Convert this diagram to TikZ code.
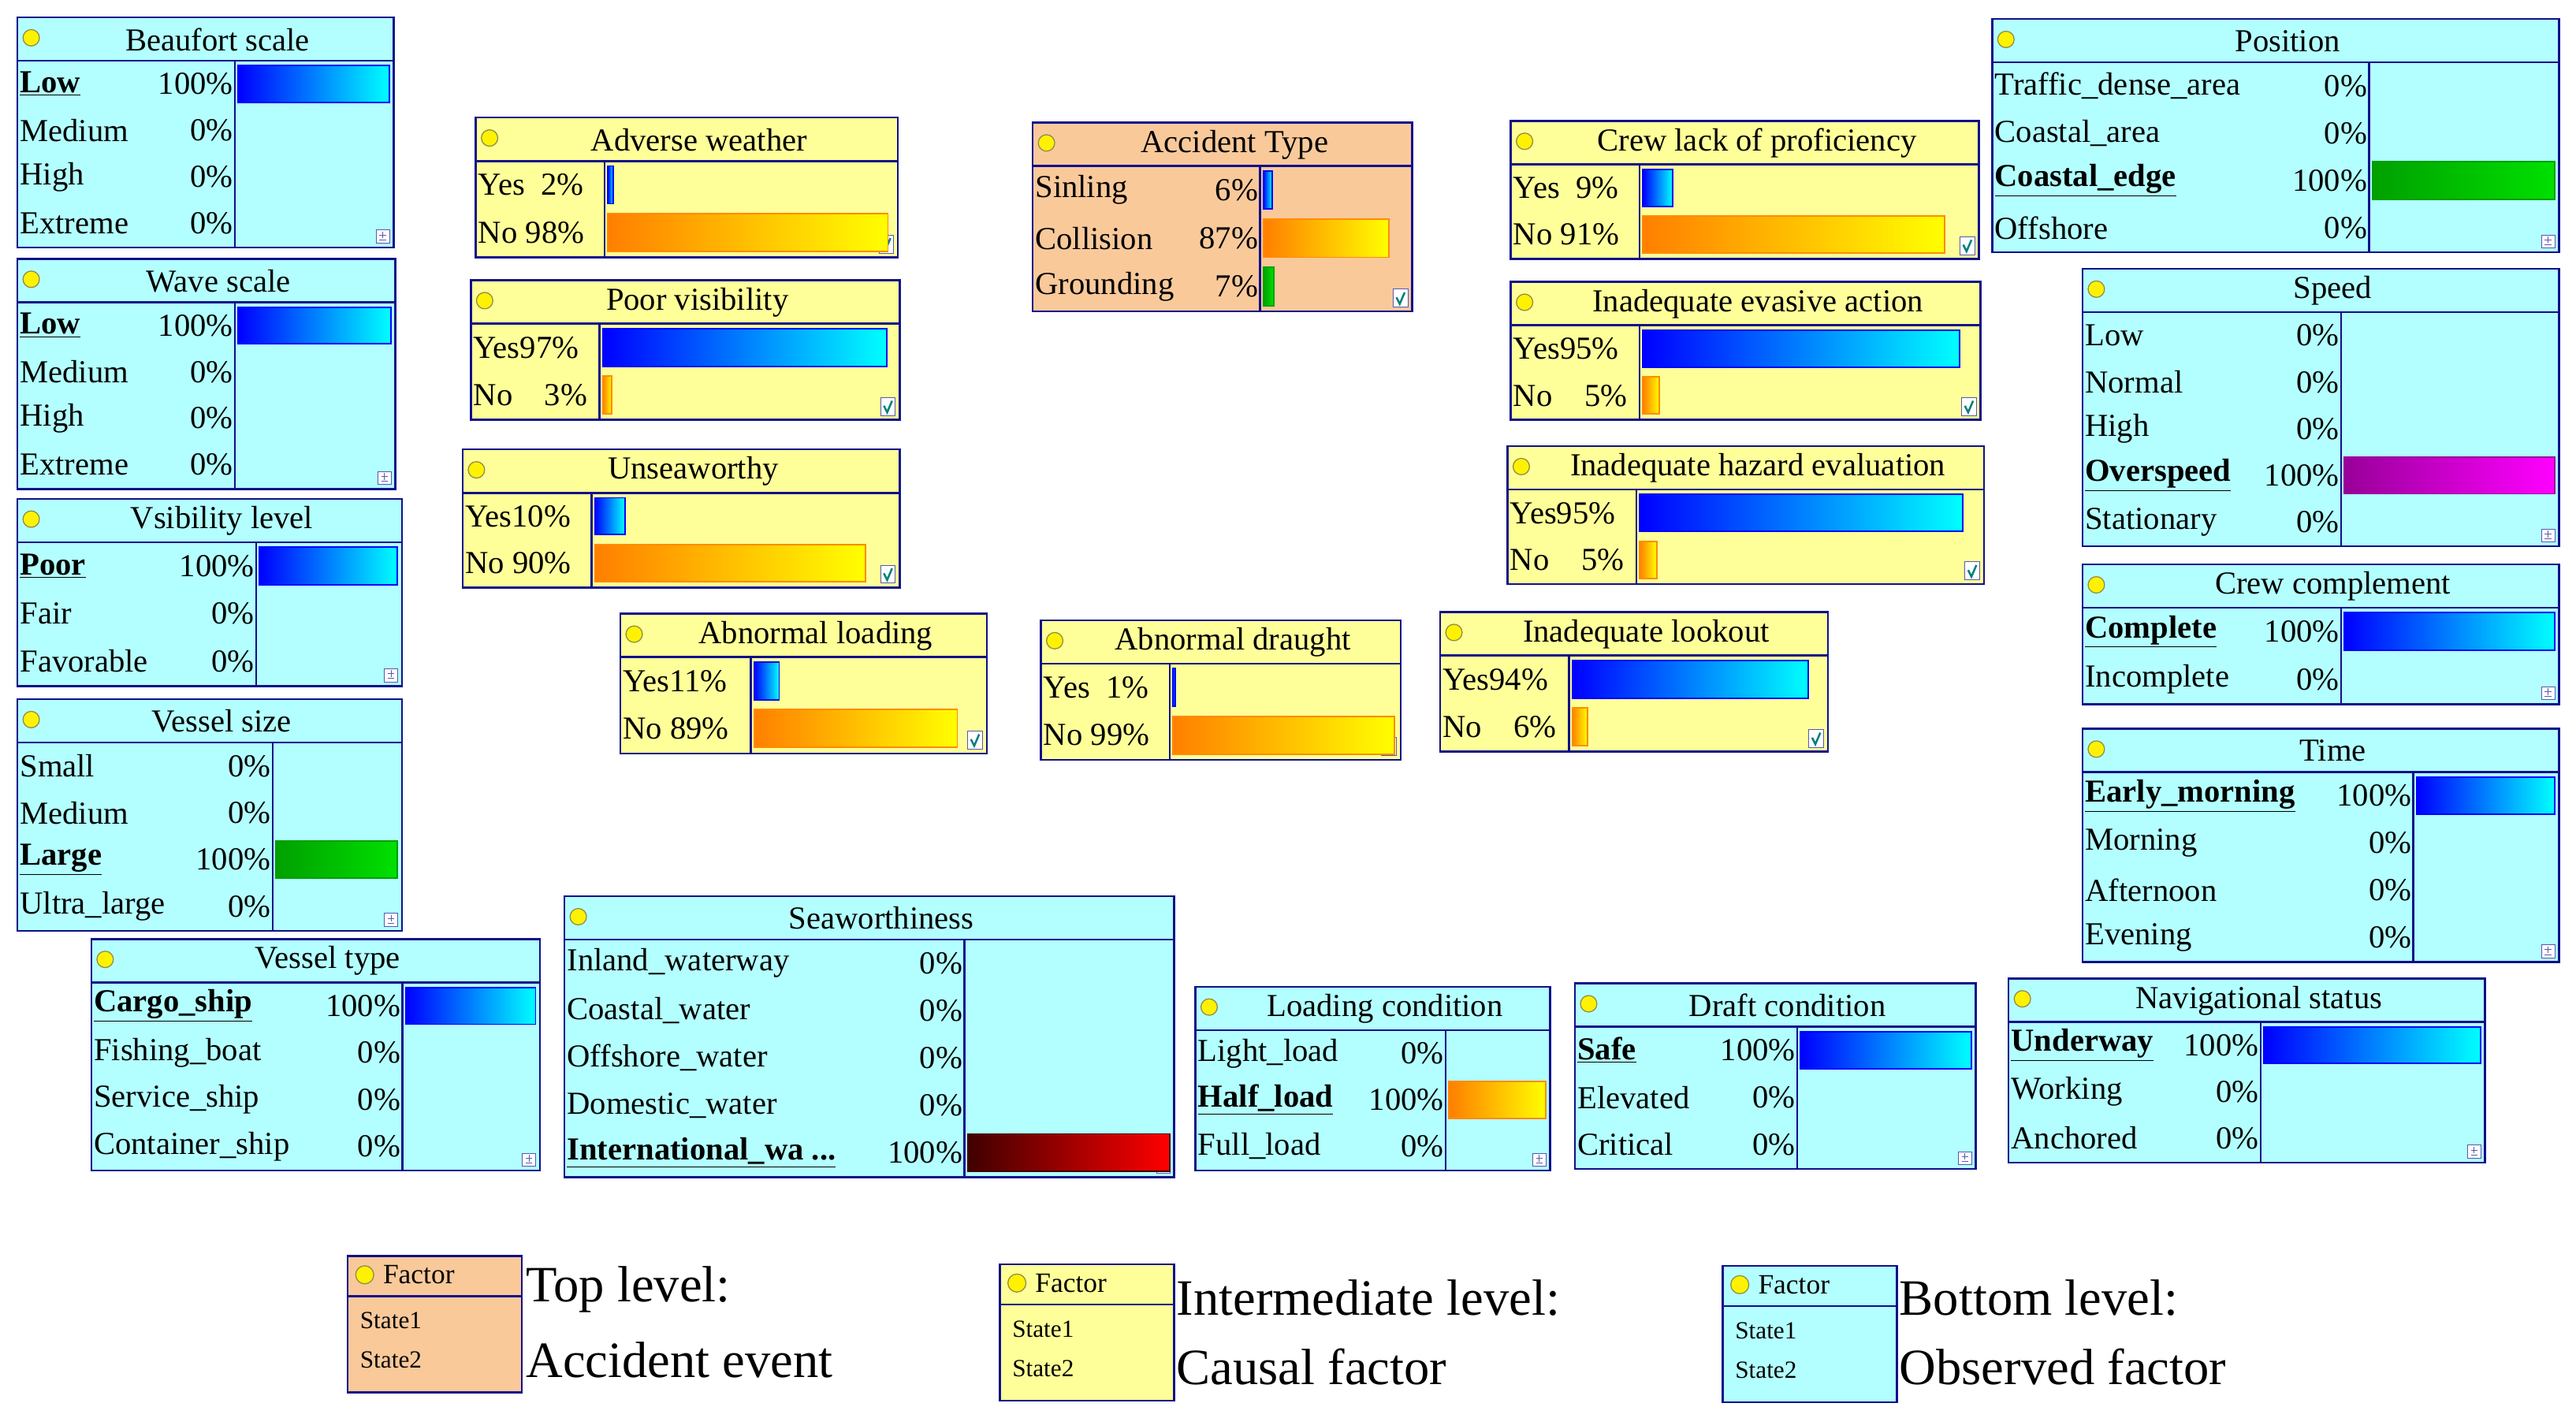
\documentclass[tikz,border=0pt]{standalone}
\usepackage{fontspec}
\setmainfont{Liberation Serif}
\usetikzlibrary{arrows.meta,backgrounds}
\definecolor{navy}{HTML}{10108A}
\definecolor{cybox}{HTML}{B3FFFF}
\definecolor{yebox}{HTML}{FFFF99}
\definecolor{pebox}{HTML}{F9C99A}
\definecolor{orA}{HTML}{FF7F00}
\definecolor{orB}{HTML}{FFFF00}
\definecolor{orD}{HTML}{FF8C00}
\definecolor{grA}{HTML}{00A000}
\definecolor{grB}{HTML}{00E000}
\definecolor{mgA}{HTML}{990099}
\definecolor{rdA}{HTML}{400000}
\definecolor{tealc}{HTML}{008080}
\tikzset{
 bnbox/.style={draw=navy,line width=1.2pt,inner sep=0pt},
 obs/.style={fill=cybox}, int/.style={fill=yebox}, top/.style={fill=pebox},
 bnline/.style={draw=navy,line width=1.2pt},
 bb/.style={left color=blue,right color=cyan,draw=blue,line width=0.9pt},
 bo/.style={left color=orA,right color=orB,draw=orD,line width=0.9pt},
 bg/.style={left color=grA,right color=grB,draw=grA,line width=0.9pt},
 bm/.style={left color=mgA,right color=magenta,draw=mgA,line width=0.9pt},
 br/.style={left color=rdA,right color=red,draw=rdA,line width=0.9pt},
 edge/.style={draw=navy,line width=0.9pt,-{Stealth[length=10pt,width=8pt]}},
 every node/.style={font=\fontsize{19.5}{22}\selectfont,inner sep=0pt},
}
\newcommand\iconobs{\draw[navy!70,line width=0.4pt,fill=white] (\bX-10,\bY-10) rectangle (\bX-2,\bY-2);
 \draw[navy!70,line width=0.4pt] (\bX-8,\bY-7)--(\bX-4,\bY-7) (\bX-6,\bY-9)--(\bX-6,\bY-5) (\bX-8,\bY-4)--(\bX-4,\bY-4);}
\newcommand\iconint{\draw[navy!70,line width=0.4pt,fill=white] (\bX-11,\bY-13) rectangle (\bX-2,\bY-2);
 \draw[tealc,line width=1.2pt] (\bX-9,\bY-8)--(\bX-7,\bY-4)--(\bX-4,\bY-11);}
\let\icontop\iconint
\newcommand\bnode[9]{%
 \def\bx{#2}\def\by{#3}\def\bX{#4}\def\bY{#5}\def\bc{#6}\def\bn{#7}%
 \node[bnbox,#9,minimum width={#4-#2},minimum height={#5-#3},anchor=north west] (#1) at (#2,#3) {};
 \draw[bnline] (#2,#3+27) -- (#4,#3+27) (#6,#3+27) -- (#6,#5);
 \filldraw[fill=yellow,draw=black!50!yellow,line width=0.6pt] (#2+9,#3+13) circle (5);
 \node at ({(#2+#4)/2+8},#3+14) {#8};
 \csname icon#9\endcsname}
\newcommand\bnrow[5]{%
 \pgfmathsetmacro\rh{(\bY-\by-27)/\bn}%
 \pgfmathsetmacro\yc{\by+27+(#1-0.5)*\rh}%
 \node[anchor=west] at (\bx+2,\yc) {#2};
 \node[anchor=east] at (\bc-1,\yc) {#3};
 \ifx&#5&\else
 \draw[#5] (\bc+2,\yc-\rh/2+3) rectangle ({\bc+2+#4*(\bX-\bc-4)},\yc+\rh/2-3);
 \fi}
\newcommand\bu[1]{\textbf{\underline{#1}}}
\newcommand\legbox[4]{% name,x,y,fill
 \node[bnbox,#4,minimum width=106,minimum height=83,anchor=north west] (#1) at (#2,#3) {};
 \draw[bnline] (#2,#3+25) -- (#2+106,#3+25);
 \filldraw[fill=yellow,draw=black!50!yellow,line width=0.6pt] (#2+11,#3+12) circle (5.5);
 \node[anchor=west,font=\fontsize{17}{19}\selectfont] at (#2+22,#3+12) {Factor};
 \node[anchor=west,font=\fontsize{15}{17}\selectfont] at (#2+8,#3+40) {State1};
 \node[anchor=west,font=\fontsize{15}{17}\selectfont] at (#2+8,#3+64) {State2};}
\begin{document}
\begin{tikzpicture}[x=1pt,y=-1pt]
\useasboundingbox[fill=white] (0,0) rectangle (1568,863);
% observed nodes
\bnode{beau}{10}{10}{239}{150}{143}{4}{Beaufort scale}{obs}
\bnrow{1}{\bu{Low}}{100\%}{1}{bb}\bnrow{2}{Medium}{0\%}{0}{}\bnrow{3}{High}{0\%}{0}{}\bnrow{4}{Extreme}{0\%}{0}{}
\bnode{wave}{10}{157}{240}{297}{143}{4}{Wave scale}{obs}
\bnrow{1}{\bu{Low}}{100\%}{1}{bb}\bnrow{2}{Medium}{0\%}{0}{}\bnrow{3}{High}{0\%}{0}{}\bnrow{4}{Extreme}{0\%}{0}{}
\bnode{vis}{10}{303}{244}{417}{156}{3}{Vsibility level}{obs}
\bnrow{1}{\bu{Poor}}{100\%}{1}{bb}\bnrow{2}{Fair}{0\%}{0}{}\bnrow{3}{Favorable}{0\%}{0}{}
\bnode{vsize}{10}{425}{244}{566}{166}{4}{Vessel size}{obs}
\bnrow{1}{Small}{0\%}{0}{}\bnrow{2}{Medium}{0\%}{0}{}\bnrow{3}{\bu{Large}}{100\%}{1}{bg}\bnrow{4}{Ultra\_large}{0\%}{0}{}
\bnode{vtype}{55}{571}{328}{712}{245}{4}{Vessel type}{obs}
\bnrow{1}{\bu{Cargo\_ship}}{100\%}{1}{bb}\bnrow{2}{Fishing\_boat}{0\%}{0}{}\bnrow{3}{Service\_ship}{0\%}{0}{}\bnrow{4}{Container\_ship}{0\%}{0}{}
\bnode{sea}{343}{545}{714}{716}{587}{5}{Seaworthiness}{obs}
\bnrow{1}{Inland\_waterway}{0\%}{0}{}\bnrow{2}{Coastal\_water}{0\%}{0}{}\bnrow{3}{Offshore\_water}{0\%}{0}{}\bnrow{4}{Domestic\_water}{0\%}{0}{}\bnrow{5}{\bu{International\_wa ...}}{100\%}{1}{br}
\bnode{load}{727}{600}{943}{712}{880}{3}{Loading condition}{obs}
\bnrow{1}{Light\_load}{0\%}{0}{}\bnrow{2}{\bu{Half\_load}}{100\%}{1}{bo}\bnrow{3}{Full\_load}{0\%}{0}{}
\bnode{draft}{958}{598}{1202}{711}{1094}{3}{Draft condition}{obs}
\bnrow{1}{\bu{Safe}}{100\%}{1}{bb}\bnrow{2}{Elevated}{0\%}{0}{}\bnrow{3}{Critical}{0\%}{0}{}
\bnode{nav}{1222}{595}{1512}{707}{1376}{3}{Navigational status}{obs}
\bnrow{1}{\bu{Underway}}{100\%}{1}{bb}\bnrow{2}{Working}{0\%}{0}{}\bnrow{3}{Anchored}{0\%}{0}{}
\bnode{time}{1267}{443}{1557}{585}{1469}{4}{Time}{obs}
\bnrow{1}{\bu{Early\_morning}}{100\%}{1}{bb}\bnrow{2}{Morning}{0\%}{0}{}\bnrow{3}{Afternoon}{0\%}{0}{}\bnrow{4}{Evening}{0\%}{0}{}
\bnode{comp}{1267}{343}{1557}{428}{1425}{2}{Crew complement}{obs}
\bnrow{1}{\bu{Complete}}{100\%}{1}{bb}\bnrow{2}{Incomplete}{0\%}{0}{}
\bnode{speed}{1267}{163}{1557}{332}{1425}{5}{Speed}{obs}
\bnrow{1}{Low}{0\%}{0}{}\bnrow{2}{Normal}{0\%}{0}{}\bnrow{3}{High}{0\%}{0}{}\bnrow{4}{\bu{Overspeed}}{100\%}{1}{bm}\bnrow{5}{Stationary}{0\%}{0}{}
\bnode{pos}{1212}{11}{1557}{153}{1442}{4}{Position}{obs}
\bnrow{1}{Traffic\_dense\_area}{0\%}{0}{}\bnrow{2}{Coastal\_area}{0\%}{0}{}\bnrow{3}{\bu{Coastal\_edge}}{100\%}{1}{bg}\bnrow{4}{Offshore}{0\%}{0}{}
% intermediate
\bnode{crew}{919}{73}{1204}{157}{998}{2}{Crew lack of proficiency}{int}
\bnrow{1}{Yes\enspace9\%}{}{0.09}{bb}\bnrow{2}{No 91\%}{}{0.91}{bo}
\bnode{evas}{919}{171}{1205}{255}{998}{2}{Inadequate evasive action}{int}
\bnrow{1}{Yes95\%}{}{0.95}{bb}\bnrow{2}{No\enspace\enspace5\%}{}{0.05}{bo}
\bnode{haz}{917}{271}{1207}{355}{996}{2}{Inadequate hazard evaluation}{int}
\bnrow{1}{Yes95\%}{}{0.95}{bb}\bnrow{2}{No\enspace\enspace5\%}{}{0.05}{bo}
\bnode{look}{876}{372}{1112}{457}{955}{2}{Inadequate lookout}{int}
\bnrow{1}{Yes94\%}{}{0.94}{bb}\bnrow{2}{No\enspace\enspace6\%}{}{0.06}{bo}
\bnode{abdr}{633}{377}{852}{462}{712}{2}{Abnormal draught}{int}
\bnrow{1}{Yes\enspace1\%}{}{0.01}{bb}\bnrow{2}{No 99\%}{}{0.99}{bo}
\bnode{abload}{377}{373}{600}{458}{457}{2}{Abnormal loading}{int}
\bnrow{1}{Yes11\%}{}{0.11}{bb}\bnrow{2}{No 89\%}{}{0.89}{bo}
\bnode{unsea}{281}{273}{547}{357}{360}{2}{Unseaworthy}{int}
\bnrow{1}{Yes10\%}{}{0.10}{bb}\bnrow{2}{No 90\%}{}{0.90}{bo}
\bnode{poor}{286}{170}{547}{255}{365}{2}{Poor visibility}{int}
\bnrow{1}{Yes97\%}{}{0.97}{bb}\bnrow{2}{No\enspace\enspace3\%}{}{0.03}{bo}
\bnode{adv}{289}{71}{546}{156}{368}{2}{Adverse weather}{int}
\bnrow{1}{Yes\enspace2\%}{}{0.02}{bb}\bnrow{2}{No 98\%}{}{0.98}{bo}
\bnode{acc}{628}{74}{859}{189}{767}{3}{Accident Type}{top}
\bnrow{1}{Sinling}{6\%}{0.06}{bb}\bnrow{2}{Collision}{87\%}{0.87}{bo}\bnrow{3}{Grounding}{7\%}{0.07}{bg}
% edges
\begin{scope}[on background layer]
\draw[edge] (beau) -- (adv);
\draw[edge] (wave) -- (adv);
\draw[edge] (vis) -- (poor);
\draw[edge] (vis) -- (look);
\draw[edge] (vsize) -- (unsea);
\draw[edge] (vsize) -- (evas);
\draw[edge] ([xshift=120pt]vtype.north) -- (haz.south west);
\draw[edge] ([xshift=-32pt]sea.north) -- ([xshift=16pt]unsea.south);
\draw[edge] ([xshift=90pt]sea.north) -- ([xshift=-95pt]evas.south);
\draw[edge] ([xshift=-70pt]load.north) -- ([xshift=64pt]abload.south);
\draw[edge] ([xshift=-82pt]load.north) -- ([xshift=60pt]unsea.south);
\draw[edge] ([xshift=-83pt]draft.north) -- ([xshift=66pt]abdr.south);
\draw[edge] ([xshift=-111pt]draft.north) -- ([xshift=102pt]unsea.south);
\draw[edge] ([xshift=-80pt]nav.north) -- ([xshift=73pt]look.south);
\draw[edge] ([xshift=-70pt]nav.north) -- ([xshift=98pt]haz.south);
\draw[edge] ([yshift=52pt]time.west) -- ([yshift=-28pt]look.east);
\draw[edge] ([yshift=15pt]speed.west) -- ([yshift=-13pt]evas.east);
\draw[edge] ([yshift=-25pt]speed.west) -- ([yshift=29pt]haz.east);
\draw[edge] ([yshift=-20pt]speed.west) -- ([xshift=60pt]crew.south);
\draw[edge] ([yshift=33pt]comp.west) -- ([yshift=-34pt]haz.east);
\draw[edge] ([yshift=30pt]comp.west) -- ([yshift=-20pt]evas.east);
\draw[edge] (pos.south west) -- ([xshift=107pt]evas.north);
\draw[edge] ([yshift=-10pt]crew.west) -- ([yshift=6pt]acc.east);
\draw[edge] ([yshift=-13pt]evas.west) -- ([xshift=-14pt]acc.south east);
\draw[edge] ([xshift=-39pt]look.north) -- ([xshift=-66pt]acc.south east);
\draw[edge] (adv.east) -- ([yshift=6pt]acc.west);
\draw[edge] ([yshift=27pt]poor.east) -- ([yshift=-29pt]acc.west);
\draw[edge] ([xshift=75pt]unsea.north) -- ([xshift=-105pt]acc.south);
\draw[edge] ([xshift=40pt]abload.north) -- ([xshift=-54pt]acc.south);
\draw[edge] (abdr.north) -- (acc.south);
\draw[edge] ([yshift=14pt]abdr.east) -- ([yshift=8pt]look.west);
\draw[edge] ([xshift=41pt]haz.north) -- ([xshift=35pt]evas.south);
\draw[edge] ([xshift=-32pt]look.north) -- ([xshift=-70pt]haz.south);
\draw[edge] ([xshift=55pt]abload.north) -- ([xshift=-95pt]evas.south);
\draw[edge] ([xshift=100pt]abload.north) -- ([xshift=-77pt]crew.south);
\draw[edge] ([xshift=90pt]abdr.north) -- ([xshift=-52pt]crew.south);
\end{scope}
% legend
\legbox{l1}{211}{764}{top}
\legbox{l2}{608}{769}{int}
\legbox{l3}{1048}{770}{obs}
\begin{scope}[every node/.style={font=\fontsize{31}{34}\selectfont,inner sep=0pt,anchor=west}]
\node (t1a) at (320,785) {Top level:};
\node (t1b) at (320,828) {Accident event};
\node (t2a) at (716,790) {Intermediate level:};
\node (t2b) at (716,832) {Causal factor};
\node (t3a) at (1156,790) {Bottom level:};
\node (t3b) at (1156,832) {Observed factor};
\end{scope}
\end{tikzpicture}
\end{document}
